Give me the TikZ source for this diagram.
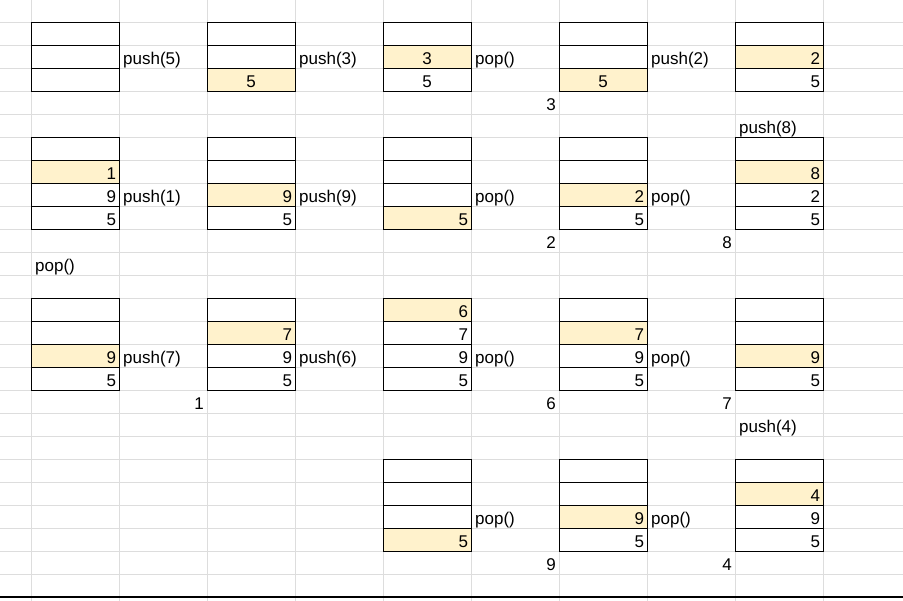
\documentclass[tikz,border=0pt]{standalone}
\usepackage{fontspec}
\setmainfont{Liberation Sans}
\definecolor{hlyellow}{HTML}{FFF2CC}
\definecolor{gridgray}{HTML}{DDDDDD}
\newcommand\cellfont{\fontsize{17}{19}\selectfont}
\newcommand\cel[4]{\node[cellbox,#3] (c#1r#2) at ({31+88*#1},{22+23*#2}) {#4};}
\newcommand\lab[4]{\node[lbl,anchor=base west] (#1) at ({31+88*#2+4},{22+23*#3+19.5}) {#4};}
\newcommand\res[4]{\node[lbl,anchor=base east] (#1) at ({31+88*#2+85},{22+23*#3+19.5}) {#4};}
\tikzset{
  cellbox/.style={draw=black,line width=0.9pt,minimum width=88pt,minimum height=23pt,
    text width=82pt,inner xsep=3pt,inner ysep=0pt,outer sep=0pt,text height=16pt,text depth=0pt,
    align=right,anchor=north west,font=\cellfont},
  hl/.style={fill=hlyellow},
  ctr/.style={align=center},
  lbl/.style={inner sep=0pt,font=\cellfont},
  gridline/.style={draw=gridgray,line width=0.8pt},
}
\begin{document}
\begin{tikzpicture}[x=1pt,y=-1pt]
\useasboundingbox (0,0) rectangle (903,601);
\fill[white] (0,0) rectangle (903,601);
\foreach \j in {0,...,9} \draw[gridline] ({31+88*\j},0) -- ({31+88*\j},601);
\foreach \k in {0,...,24} \draw[gridline] (0,{22+23*\k}) -- (903,{22+23*\k});
\draw[black,line width=1.6pt] (0,597) -- (903,597);
% group 1
\cel{0}{0}{}{}\cel{0}{1}{}{}\cel{0}{2}{}{}
\lab{l1}{1}{1}{push(5)}
\cel{2}{0}{}{}\cel{2}{1}{}{}\cel{2}{2}{hl,ctr}{5}
\lab{l2}{3}{1}{push(3)}
\cel{4}{0}{}{}\cel{4}{1}{hl,ctr}{3}\cel{4}{2}{ctr}{5}
\lab{l3}{5}{1}{pop()}
\res{r1}{5}{3}{3}
\cel{6}{0}{}{}\cel{6}{1}{}{}\cel{6}{2}{hl,ctr}{5}
\lab{l4}{7}{1}{push(2)}
\cel{8}{0}{}{}\cel{8}{1}{hl}{2}\cel{8}{2}{}{5}
\lab{l5}{8}{4}{push(8)}
% group 2
\cel{0}{5}{}{}\cel{0}{6}{hl}{1}\cel{0}{7}{}{9}\cel{0}{8}{}{5}
\lab{l6}{1}{7}{push(1)}
\cel{2}{5}{}{}\cel{2}{6}{}{}\cel{2}{7}{hl}{9}\cel{2}{8}{}{5}
\lab{l7}{3}{7}{push(9)}
\cel{4}{5}{}{}\cel{4}{6}{}{}\cel{4}{7}{}{}\cel{4}{8}{hl}{5}
\lab{l8}{5}{7}{pop()}
\res{r2}{5}{9}{2}
\cel{6}{5}{}{}\cel{6}{6}{}{}\cel{6}{7}{hl}{2}\cel{6}{8}{}{5}
\lab{l9}{7}{7}{pop()}
\res{r3}{7}{9}{8}
\cel{8}{5}{}{}\cel{8}{6}{hl}{8}\cel{8}{7}{}{2}\cel{8}{8}{}{5}
\lab{l10}{0}{10}{pop()}
% group 3
\cel{0}{12}{}{}\cel{0}{13}{}{}\cel{0}{14}{hl}{9}\cel{0}{15}{}{5}
\lab{l11}{1}{14}{push(7)}
\res{r4}{1}{16}{1}
\cel{2}{12}{}{}\cel{2}{13}{hl}{7}\cel{2}{14}{}{9}\cel{2}{15}{}{5}
\lab{l12}{3}{14}{push(6)}
\cel{4}{12}{hl}{6}\cel{4}{13}{}{7}\cel{4}{14}{}{9}\cel{4}{15}{}{5}
\lab{l13}{5}{14}{pop()}
\res{r5}{5}{16}{6}
\cel{6}{12}{}{}\cel{6}{13}{hl}{7}\cel{6}{14}{}{9}\cel{6}{15}{}{5}
\lab{l14}{7}{14}{pop()}
\res{r6}{7}{16}{7}
\cel{8}{12}{}{}\cel{8}{13}{}{}\cel{8}{14}{hl}{9}\cel{8}{15}{}{5}
\lab{l15}{8}{17}{push(4)}
% group 4
\cel{4}{19}{}{}\cel{4}{20}{}{}\cel{4}{21}{}{}\cel{4}{22}{hl}{5}
\lab{l16}{5}{21}{pop()}
\res{r7}{5}{23}{9}
\cel{6}{19}{}{}\cel{6}{20}{}{}\cel{6}{21}{hl}{9}\cel{6}{22}{}{5}
\lab{l17}{7}{21}{pop()}
\res{r8}{7}{23}{4}
\cel{8}{19}{}{}\cel{8}{20}{hl}{4}\cel{8}{21}{}{9}\cel{8}{22}{}{5}
\end{tikzpicture}
\end{document}
